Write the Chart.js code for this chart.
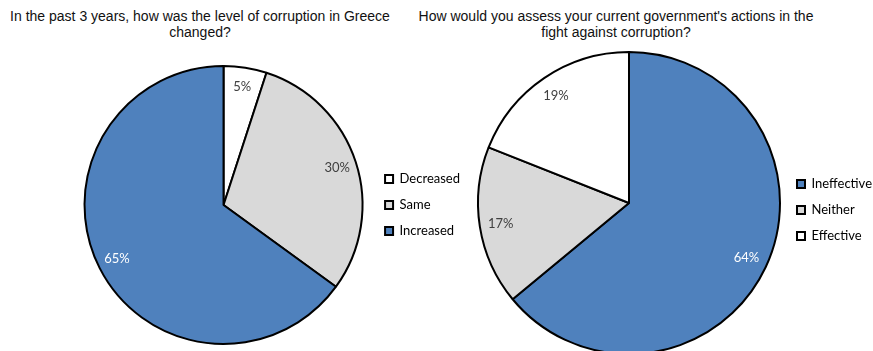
<!DOCTYPE html>
<html>
<head>
<meta charset="utf-8">
<script src="https://cdn.jsdelivr.net/npm/chart.js@4"></script>
<style>
  body { margin: 0; background: #fff; width: 873px; height: 351px; position: relative; overflow: hidden; }
  .title { position: absolute; font: 14px "Liberation Sans", Arial, sans-serif; color: #111; text-align: center; line-height: 16px; white-space: nowrap; }
  canvas { position: absolute; top: 0; }
</style>
</head>
<body>
<div class="title" style="left:0;width:400px;top:8px;">In the past 3 years, how was the level of corruption in Greece<br>changed?</div>
<div class="title" style="left:416px;width:400px;top:8px;">How would you assess your current government's actions in the<br>fight against corruption?</div>
<div style="position:absolute;left:0;top:0;width:470px;height:351px;"><canvas id="left"></canvas></div>
<div style="position:absolute;left:470px;top:0;width:412px;height:351px;"><canvas id="right"></canvas></div>
<script>
const changeLabels = ['Decreased', 'Same', 'Increased'];
const changeValues = [5, 30, 65];
const changeColors = ['#ffffff', '#d9d9d9', '#4f81bd'];

const actionLabels = ['Ineffective', 'Neither', 'Effective'];
const actionValues = [64, 17, 19];
const actionColors = ['#4f81bd', '#d9d9d9', '#ffffff'];

const labelFont = '13px Lato, "Open Sans", sans-serif';

// percentage text placed along each slice's middle angle
const sliceLabels = {
  id: 'sliceLabels',
  afterDatasetsDraw(chart) {
    const ctx = chart.ctx;
    const meta = chart.getDatasetMeta(0);
    const data = chart.data.datasets[0].data;
    const colors = chart.data.datasets[0].backgroundColor;
    ctx.save();
    ctx.font = labelFont;
    ctx.textAlign = 'center';
    ctx.textBaseline = 'middle';
    meta.data.forEach((arc, i) => {
      const p = arc.getProps(['x', 'y', 'startAngle', 'endAngle', 'outerRadius'], true);
      const mid = (p.startAngle + p.endAngle) / 2;
      const r = p.outerRadius * 0.86;
      ctx.fillStyle = colors[i] === '#4f81bd' ? '#ffffff' : '#404040';
      ctx.fillText(data[i] + '%', p.x + Math.cos(mid) * r, p.y + Math.sin(mid) * r);
    });
    ctx.restore();
  }
};

function makePie(id, labels, values, colors, radius, padding, legendShift) {
  return new Chart(document.getElementById(id), {
    type: 'pie',
    data: {
      labels: labels,
      datasets: [{
        data: values,
        backgroundColor: colors,
        borderColor: '#000000',
        borderWidth: 2,
        radius: radius
      }]
    },
    options: {
      responsive: true,
      maintainAspectRatio: false,
      animation: false,
      layout: { padding: padding },
      plugins: {
        tooltip: { enabled: false },
        legend: {
          position: 'right',
          // an empty title only nudges the entries downward
          title: { display: legendShift > 0, text: ' ', font: { size: 10 }, padding: legendShift },
          labels: {
            boxWidth: 8,
            boxHeight: 8,
            padding: 13,
            color: '#000',
            font: { family: 'Lato, "Open Sans", sans-serif', size: 13 },
            generateLabels(chart) {
              const ds = chart.data.datasets[0];
              return chart.data.labels.map((l, i) => ({
                text: l,
                fillStyle: ds.backgroundColor[i],
                strokeStyle: '#000',
                fontColor: '#000',
                lineWidth: 2,
                index: i
              }));
            }
          }
        }
      }
    },
    plugins: [sliceLabels]
  });
}

makePie('left', changeLabels, changeValues, changeColors, 139, { top: 59, bottom: 0, left: 75, right: 0 }, 0);
makePie('right', actionLabels, actionValues, actionColors, 151, { top: 55, bottom: 0, left: 4, right: 0 }, 1);
</script>
</body>
</html>
